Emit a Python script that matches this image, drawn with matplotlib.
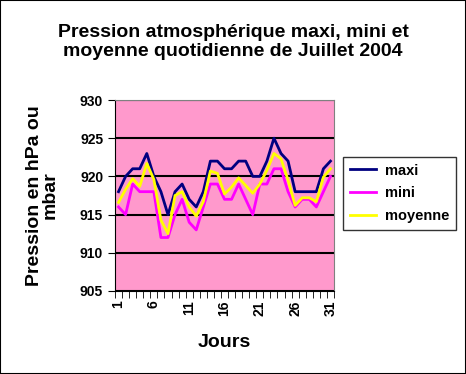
import numpy as np
import matplotlib.pyplot as plt

plt.rcParams['font.family'] = ['Liberation Sans', 'DejaVu Sans']

jours = np.arange(1, 32)
maxi = [918, 920, 921, 921, 923, 920, 918, 915, 918, 919, 917, 916, 918, 922, 922,
        921, 921, 922, 922, 920, 920, 922, 925, 923, 922, 918, 918, 918, 918, 921, 922]
mini = [916, 915, 919, 918, 918, 918, 912, 912, 915, 917, 914, 913, 916, 919, 919,
        917, 917, 919, 917, 915, 919, 919, 921, 921, 918, 916, 917, 917, 916, 918, 920]
moyenne = [916.6, 918.3, 919.7, 918.7, 921.7, 919.6, 914.3, 912.5, 917.5, 918, 916, 914.8,
           916.7, 920.7, 920.4, 917.7, 918.6, 919.8, 918.8, 917.8, 919, 920.8, 923, 922.3,
           919.5, 916.2, 917.2, 917.2, 916.7, 919.9, 921]

fig = plt.figure(figsize=(4.66, 3.74), dpi=100)
fig.patches.append(plt.Rectangle((0, 0), 1, 1, transform=fig.transFigure,
                                 fill=False, edgecolor='black', lw=1.5))
ax = fig.add_axes([115/466, 1-291/374, 219/466, 191/374])
ax.set_facecolor('#FF99CC')

ax.plot(jours, maxi, color='#000080', lw=2, label='maxi')
ax.plot(jours, mini, color='#FF00FF', lw=2, label='mini')
ax.plot(jours, moyenne, color='#FFFF00', lw=2, label='moyenne')

ax.set_xlim(0.5, 31.5)
ax.set_ylim(905, 930)
ax.set_yticks(range(905, 931, 5))
ax.yaxis.grid(True, color='black', lw=1.5)
ax.set_axisbelow(True)
ax.set_xticks([1, 6, 11, 16, 21, 26, 31])
ax.set_xticks(np.arange(0.5, 32, 1), minor=True)
ax.tick_params(axis='x', which='major', length=0, labelrotation=90, labelsize=10, pad=7)
ax.tick_params(axis='x', which='minor', length=5, color='black')
ax.tick_params(axis='y', length=5, labelsize=10)
for lab in ax.get_xticklabels() + ax.get_yticklabels():
    lab.set_fontweight('bold')

for s in ['top', 'right']:
    ax.spines[s].set_color('#808080')
for s in ['left', 'bottom']:
    ax.spines[s].set_color('black')

ax.set_xlabel('Jours', fontsize=14, fontweight='bold', labelpad=13)
ax.set_ylabel('Pression en hPa ou\nmbar', fontsize=14, fontweight='bold', labelpad=15,
              linespacing=0.95)

fig.suptitle('Pression atmosphérique maxi, mini et\nmoyenne quotidienne de Juillet 2004',
             fontsize=14, fontweight='bold', y=0.935, linespacing=1.1)

leg = ax.legend(loc='upper left', bbox_to_anchor=(343/466, 1-157/374),
                bbox_transform=fig.transFigure, frameon=True, fancybox=False,
                edgecolor='black', handlelength=1.8, handletextpad=0.6,
                labelspacing=0.6, borderaxespad=0, borderpad=0.45,
                prop={'weight': 'bold', 'size': 10.5})
leg.get_frame().set_linewidth(1)

fig.savefig('out.png', dpi=100)
